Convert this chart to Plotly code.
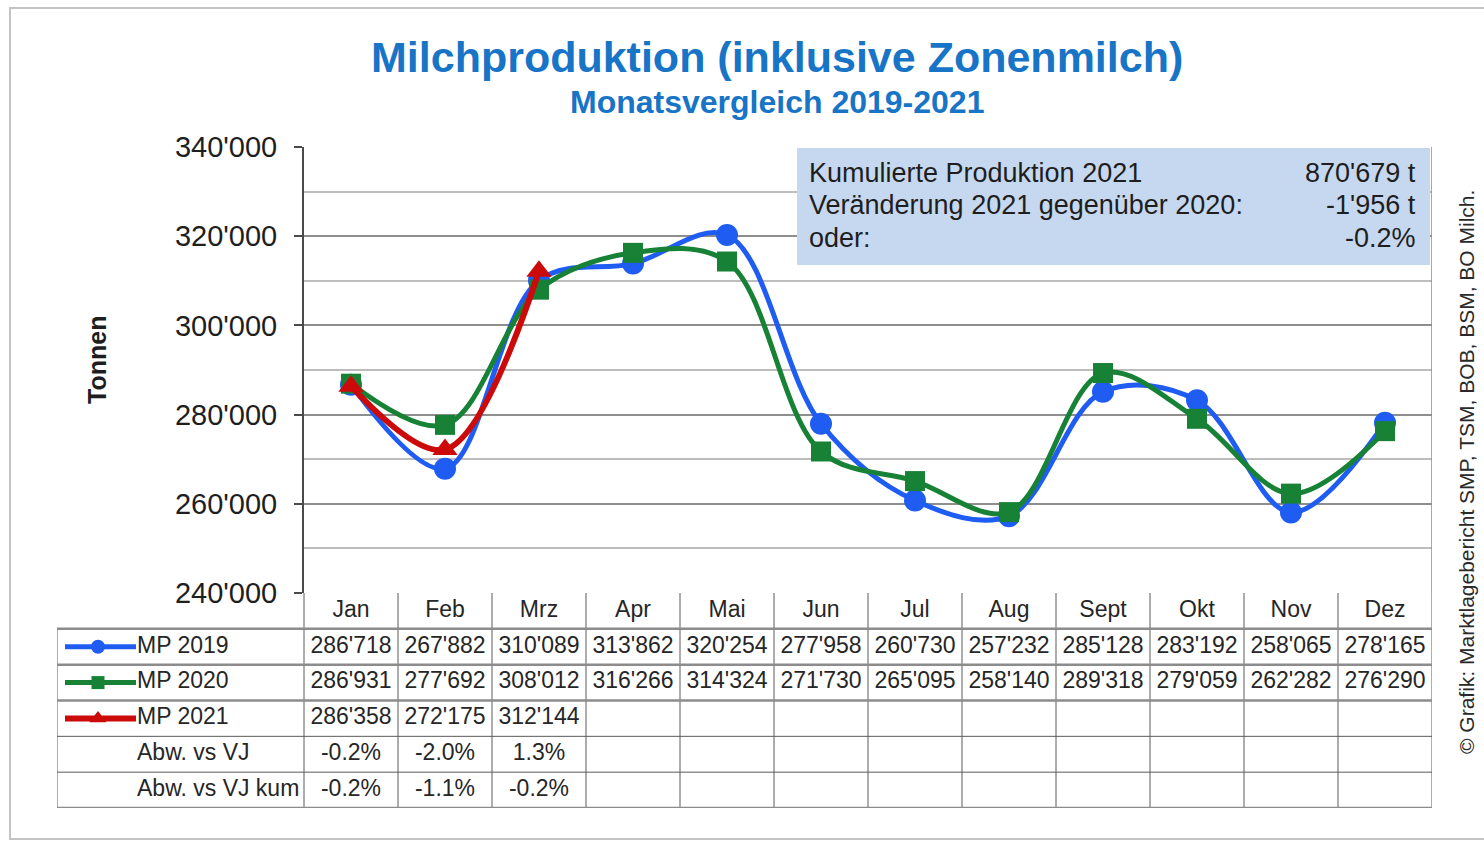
import plotly.graph_objects as go

# ---------------- data ----------------
months = ["Jan", "Feb", "Mrz", "Apr", "Mai", "Jun", "Jul", "Aug", "Sept", "Okt", "Nov", "Dez"]
mp2019 = [286718, 267882, 310089, 313862, 320254, 277958, 260730, 257232, 285128, 283192, 258065, 278165]
mp2020 = [286931, 277692, 308012, 316266, 314324, 271730, 265095, 258140, 289318, 279059, 262282, 276290]
mp2021 = [286358, 272175, 312144]
abw_vj = [-0.2, -2.0, 1.3]
abw_vj_kum = [-0.2, -1.1, -0.2]

row_labels = ["MP 2019", "MP 2020", "MP 2021", "Abw. vs VJ", "Abw. vs VJ kum"]
info_labels = ["Kumulierte Produktion 2021", "Veränderung 2021 gegenüber 2020:", "oder:"]
info_values = ["870'679 t", "-1'956 t", "-0.2%"]
source_text = "© Grafik: Marktlagebericht SMP, TSM, BOB, BSM, BO Milch."

W, H = 1484, 843
FONT = "Liberation Sans, Arial, sans-serif"
BLUE, GREEN, RED = "#1f5cf2", "#178236", "#cc0a0a"
TITLE_BLUE = "#1774c6"

# plot box in pixels (reference picture)
PL, PR, PT, PB = 304, 1432, 147, 593
TL, TB = 57, 808  # left / bottom of the table


def px(x):  # pixel -> paper x
    return x / W


def py(y):  # pixel -> paper y
    return 1 - y / H


def col(xpix):  # pixel -> data x (month index units)
    return (xpix - PL) / ((PR - PL) / 12) - 0.5


def fmt(v):
    return f"{v:,}".replace(",", "'")


def pct(v):
    return f"{v:.1f}%"


idx = list(range(12))
fig = go.Figure()

# ---------------- lines ----------------
for vals, color, sym, size, width in [
    (mp2019, BLUE, "circle", 22, 5),
    (mp2020, GREEN, "square", 20, 5),
    (mp2021, RED, "triangle-up", 22, 6),
]:
    fig.add_trace(go.Scatter(
        x=idx[:len(vals)], y=vals, mode="lines+markers",
        line=dict(color=color, width=width, shape="spline", smoothing=1.0),
        marker=dict(color=color, symbol=sym, size=size),
        showlegend=False, hoverinfo="skip"))

# ---------------- table (own axes x2/y2, same column scale as x) ----------------
TXT = dict(family=FONT, size=23, color="#262626")
fig.add_trace(go.Scatter(x=idx, y=[0.5] * 12, xaxis="x2", yaxis="y2", mode="text", text=months,
                         textfont=TXT, cliponaxis=False, showlegend=False, hoverinfo="skip"))
rows = [
    [fmt(v) for v in mp2019],
    [fmt(v) for v in mp2020],
    [fmt(v) for v in mp2021],
    [pct(v) for v in abw_vj],
    [pct(v) for v in abw_vj_kum],
]
for r, texts in enumerate(rows):
    fig.add_trace(go.Scatter(x=idx[:len(texts)], y=[r + 1.5] * len(texts), xaxis="x2", yaxis="y2",
                             mode="text", text=texts, textfont=TXT, cliponaxis=False,
                             showlegend=False, hoverinfo="skip"))
# row labels
fig.add_trace(go.Scatter(x=[col(137)] * 5, y=[r + 1.5 for r in range(5)], xaxis="x2", yaxis="y2",
                         mode="text", text=row_labels, textposition="middle right",
                         textfont=TXT, cliponaxis=False, showlegend=False, hoverinfo="skip"))
# legend swatches in label column
for r, (color, sym, size) in enumerate([(BLUE, "circle", 14), (GREEN, "square", 13), (RED, "triangle-up", 15)]):
    fig.add_shape(type="line", xref="x2", yref="y2", x0=col(65), x1=col(136), y0=r + 1.5, y1=r + 1.5,
                  line=dict(color=color, width=5 if r < 2 else 6))
    fig.add_trace(go.Scatter(x=[col(98)], y=[r + 1.5], xaxis="x2", yaxis="y2", mode="markers",
                             marker=dict(color=color, symbol=sym, size=size),
                             cliponaxis=False, showlegend=False, hoverinfo="skip"))

# table grid
for k in range(13):
    fig.add_shape(type="line", xref="x2", yref="y2", x0=k - 0.5, x1=k - 0.5, y0=0, y1=6,
                  line=dict(color="#5a5a5a", width=1))
fig.add_shape(type="line", xref="x2", yref="y2", x0=col(TL), x1=col(TL), y0=1, y1=6,
              line=dict(color="#5a5a5a", width=1))
for r in range(1, 7):
    thick = r <= 3 or r == 6
    fig.add_shape(type="line", xref="x2", yref="y2", x0=col(TL), x1=11.5, y0=r, y1=r,
                  line=dict(color="#8c8c8c" if thick else "#5a5a5a", width=2.5 if thick else 1))

# right border of plot area
fig.add_shape(type="line", xref="x", yref="y", x0=11.5, x1=11.5, y0=240000, y1=340000,
              line=dict(color="#8c8c8c", width=1.5))

# info box
fig.add_shape(type="rect", xref="paper", yref="paper", x0=px(797), x1=px(1430), y0=py(265), y1=py(148),
              fillcolor="#c6d8ef", line=dict(width=0), layer="above")
for i, (lab, val) in enumerate(zip(info_labels, info_values)):
    yy = py(173 + i * 32.5)
    fig.add_annotation(x=px(807), y=yy, xref="paper", yref="paper", text=lab, showarrow=False,
                       xanchor="left", yanchor="middle", font=dict(family=FONT, size=27, color="#1e1e1e"))
    fig.add_annotation(x=px(1418), y=yy, xref="paper", yref="paper", text=val, showarrow=False,
                       xanchor="right", yanchor="middle", font=dict(family=FONT, size=27, color="#1e1e1e"))

# outer frame
fig.add_shape(type="rect", xref="paper", yref="paper", x0=px(10), x1=px(1500), y0=py(839), y1=py(8),
              line=dict(color="#c4c4c4", width=2))

# titles
fig.add_annotation(x=px(777), y=py(57), xref="paper", yref="paper", showarrow=False,
                   text="<b>Milchproduktion (inklusive Zonenmilch)</b>", xanchor="center",
                   font=dict(family=FONT, size=43, color=TITLE_BLUE), yanchor="middle")
fig.add_annotation(x=px(777), y=py(102), xref="paper", yref="paper", showarrow=False,
                   text="<b>Monatsvergleich 2019-2021</b>", xanchor="center",
                   font=dict(family=FONT, size=32, color=TITLE_BLUE), yanchor="middle")
fig.add_annotation(x=px(97), y=py(360), xref="paper", yref="paper", showarrow=False,
                   text="<b>Tonnen</b>", textangle=-90, xanchor="center", yanchor="middle",
                   font=dict(family=FONT, size=25, color="#1e1e1e"))
fig.add_annotation(x=px(1466), y=py(472), xref="paper", yref="paper", showarrow=False,
                   text=source_text, textangle=-90, xanchor="center", yanchor="middle",
                   font=dict(family=FONT, size=21, color="#2a2a2a"))

fig.update_layout(
    width=W, height=H,
    margin=dict(l=0, r=0, t=0, b=0, autoexpand=False),
    paper_bgcolor="white", plot_bgcolor="white",
    separators=".'",
    font=dict(family=FONT, color="#1e1e1e"),
    xaxis=dict(domain=[px(PL), px(PR)], range=[-0.5, 11.5], showgrid=False, zeroline=False,
               showticklabels=False, ticks="", showline=False, fixedrange=True),
    yaxis=dict(domain=[py(PB), py(PT)], range=[240000, 340000], dtick=20000, tickformat=",d",
               showgrid=True, gridcolor="#8e8e8e", gridwidth=1.5, zeroline=False,
               minor=dict(dtick=10000, showgrid=True, gridcolor="#bdbdbd", gridwidth=1.5),
               showline=True, linecolor="#4a4a4a", linewidth=2,
               ticks="outside", ticklen=8, tickcolor="#4a4a4a", tickwidth=2,
               ticklabelstandoff=11,
               tickfont=dict(family=FONT, size=29, color="#1e1e1e"), fixedrange=True),
    xaxis2=dict(domain=[px(TL), px(PR)], range=[col(TL), 11.5], anchor="y2", visible=False,
                fixedrange=True),
    yaxis2=dict(domain=[py(TB), py(PB)], range=[6, 0], anchor="x2", visible=False, fixedrange=True),
)

fig.write_html("out.html", config={"displayModeBar": False},
               post_script="document.body.style.margin='0';")
